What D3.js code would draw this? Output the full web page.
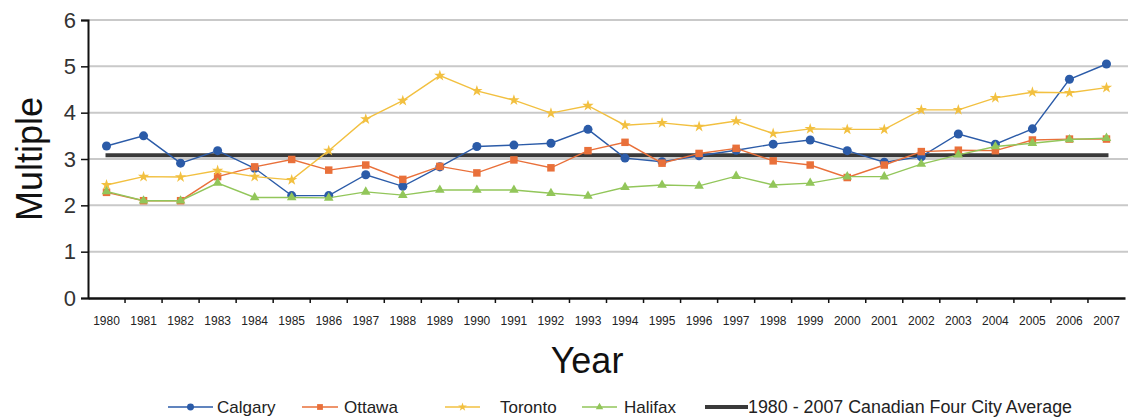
<!DOCTYPE html>
<html>
<head>
<meta charset="utf-8">
<script src="https://cdnjs.cloudflare.com/ajax/libs/d3/7.8.5/d3.min.js"></script>
<style>
  html, body { margin: 0; padding: 0; background: #fff; }
  svg { display: block; font-family: "Liberation Sans", Arial, Helvetica, sans-serif; }
</style>
</head>
<body>
<svg id="chart" width="1128" height="417"></svg>
<script>
// Years on the x axis
const years = [1980,1981,1982,1983,1984,1985,1986,1987,1988,1989,1990,1991,1992,1993,
               1994,1995,1996,1997,1998,1999,2000,2001,2002,2003,2004,2005,2006,2007];

// Price multiple per city
const calgary = [3.28,3.50,2.91,3.18,2.80,2.21,2.21,2.66,2.41,2.83,3.27,3.30,3.34,3.64,
                 3.02,2.94,3.07,3.19,3.32,3.41,3.18,2.93,3.05,3.54,3.32,3.65,4.72,5.05];
const ottawa  = [2.28,2.10,2.10,2.62,2.83,2.99,2.76,2.87,2.56,2.84,2.70,2.98,2.81,3.18,
                 3.36,2.91,3.12,3.23,2.96,2.87,2.60,2.87,3.16,3.19,3.18,3.41,3.43,3.43];
const toronto = [2.44,2.62,2.61,2.75,2.62,2.55,3.18,3.86,4.26,4.80,4.47,4.27,3.99,4.15,
                 3.73,3.78,3.70,3.82,3.55,3.65,3.64,3.64,4.06,4.06,4.32,4.44,4.43,4.54];
const halifax = [2.30,2.10,2.10,2.48,2.17,2.17,2.16,2.29,2.22,2.33,2.33,2.33,2.26,2.20,
                 2.39,2.44,2.42,2.63,2.44,2.48,2.62,2.62,2.89,3.09,3.27,3.34,3.42,3.45];

// 1980 - 2007 four city average
const average = 3.08;

const yTicks = [0,1,2,3,4,5,6];

const series = [
  { name: "Calgary", values: calgary, color: "#2b5ba8", symbol: d3.symbolCircle,   size: 64 },
  { name: "Ottawa",  values: ottawa,  color: "#e9703a", symbol: d3.symbolSquare,   size: 56 },
  { name: "Toronto", values: toronto, color: "#f2c040", symbol: d3.symbolStar,     size: 40 },
  { name: "Halifax", values: halifax, color: "#92c65a", symbol: d3.symbolTriangle, size: 40 }
];

const svg = d3.select("#chart");
const margin = { left: 88, right: 3, top: 20, bottom: 119 };
const W = 1128, H = 417;

const x = d3.scaleBand().domain(years).range([margin.left, W - margin.right]);
const y = d3.scaleLinear().domain([0, 6]).range([H - margin.bottom, margin.top]);
const cx = d => x(d) + x.bandwidth() / 2;

// horizontal grid
svg.append("g").selectAll("line").data(yTicks.filter(t => t > 0)).join("line")
  .attr("x1", margin.left).attr("x2", W)
  .attr("y1", d => y(d)).attr("y2", d => y(d))
  .attr("stroke", "#c9c9c9").attr("stroke-width", 2);

// y axis
const yAxis = svg.append("g")
  .attr("transform", `translate(${margin.left},0)`)
  .call(d3.axisLeft(y).tickValues(yTicks).tickFormat(d3.format("d")).tickSize(7).tickPadding(5));
yAxis.select(".domain").attr("stroke", "#111").attr("stroke-width", 2);
yAxis.selectAll(".tick line").attr("stroke", "#111").attr("stroke-width", 1.5);
yAxis.selectAll(".tick text").attr("font-size", 22).attr("fill", "#333")
  .attr("font-family", "Liberation Sans, Arial, sans-serif");

// x axis, ticks between years
const xAxis = svg.append("g")
  .attr("transform", `translate(0,${y(0)})`)
  .call(d3.axisBottom(x).tickSize(0).tickPadding(18));
xAxis.select(".domain").attr("stroke", "#111").attr("stroke-width", 2.5);
xAxis.selectAll(".tick text").attr("font-size", 12).attr("fill", "#222")
  .attr("font-family", "Liberation Sans, Arial, sans-serif");
svg.append("g").selectAll("line").data(years.slice(1)).join("line")
  .attr("x1", d => x(d)).attr("x2", d => x(d))
  .attr("y1", y(0)).attr("y2", y(0) + 5)
  .attr("stroke", "#111").attr("stroke-width", 1.5);

// average line
svg.append("line")
  .attr("x1", cx(years[0]) - 1).attr("x2", cx(years[years.length - 1]) + 2)
  .attr("y1", y(average)).attr("y2", y(average))
  .attr("stroke", "#3a3a3a").attr("stroke-width", 4);

// city series
const line = d3.line().x((d, i) => cx(years[i])).y(d => y(d));
series.forEach(s => {
  const g = svg.append("g");
  g.append("path").datum(s.values)
    .attr("d", line).attr("fill", "none")
    .attr("stroke", s.color).attr("stroke-width", 1.4);
  g.selectAll("path.pt").data(s.values).join("path").attr("class", "pt")
    .attr("transform", (d, i) => `translate(${cx(years[i])},${y(d)})`)
    .attr("d", d3.symbol().type(s.symbol).size(s.size))
    .attr("fill", s.color);
});

// axis titles
svg.append("text")
  .attr("transform", `translate(42,${(y(0) + y(6)) / 2}) rotate(-90)`)
  .attr("text-anchor", "middle")
  .attr("font-size", 36).attr("fill", "#111")
  .text("Multiple");
svg.append("text")
  .attr("x", 587).attr("y", 373)
  .attr("text-anchor", "middle")
  .attr("font-size", 36).attr("fill", "#111")
  .text("Year");

// legend
const legendY = 407;
const legendItems = [
  { s: series[0], x0: 168, x1: 213, tx: 217 },
  { s: series[1], x0: 302, x1: 338, tx: 344 },
  { s: series[2], x0: 445, x1: 480, tx: 500 },
  { s: series[3], x0: 582, x1: 617, tx: 624 }
];
const lg = svg.append("g");
legendItems.forEach(it => {
  lg.append("line").attr("x1", it.x0).attr("x2", it.x1)
    .attr("y1", legendY).attr("y2", legendY)
    .attr("stroke", it.s.color).attr("stroke-width", 1.4);
  lg.append("path")
    .attr("transform", `translate(${(it.x0 + it.x1) / 2},${legendY})`)
    .attr("d", d3.symbol().type(it.s.symbol).size(it.s.size * 0.6))
    .attr("fill", it.s.color);
  lg.append("text").attr("x", it.tx).attr("y", legendY + 6)
    .attr("font-size", 17).attr("fill", "#222").text(it.s.name);
});
lg.append("line").attr("x1", 705).attr("x2", 748)
  .attr("y1", legendY).attr("y2", legendY)
  .attr("stroke", "#3a3a3a").attr("stroke-width", 4);
lg.append("text").attr("x", 748).attr("y", legendY + 6)
  .attr("font-size", 17.5).attr("fill", "#222")
  .attr("textLength", 324).attr("lengthAdjust", "spacingAndGlyphs")
  .text("1980 - 2007 Canadian Four City Average");
</script>
</body>
</html>
